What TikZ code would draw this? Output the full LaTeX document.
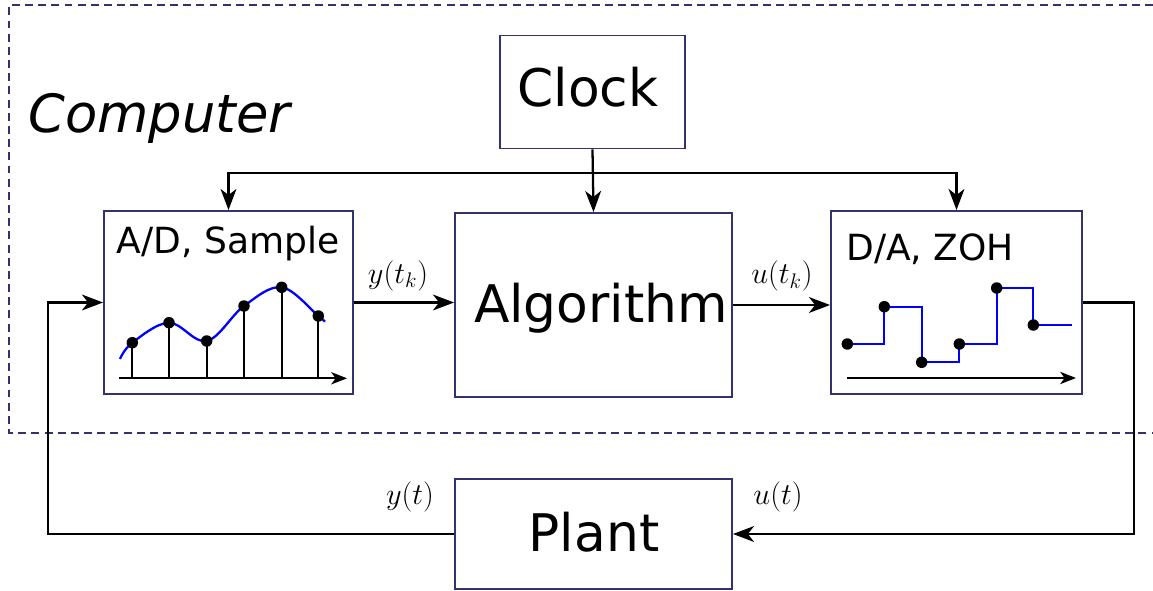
\documentclass[tikz,border=0pt]{standalone}
\usepackage[no-math]{fontspec}
\newfontfamily\dv{DejaVu Sans}
\usetikzlibrary{arrows.meta}
\definecolor{navy}{RGB}{50,50,110}
\begin{document}
\begin{tikzpicture}[x=0.02cm,y=-0.02cm,
  box/.style={draw=navy,line width=1.1pt,rectangle,inner sep=0pt},
  arr/.style={draw=black,line width=1.3pt,-{Stealth[length=12pt,width=9pt,inset=3.5pt]}},
  axarr/.style={draw=black,line width=1pt,-{Stealth[length=9pt,width=7pt,inset=2.5pt]}},
  stem/.style={draw=black,line width=1pt},
  sig/.style={draw=blue,line width=1.3pt},
  big/.style={font=\dv\fontsize{29.5}{34}\selectfont,inner sep=0pt,anchor=base},
  mid/.style={font=\dv\fontsize{20.5}{24}\selectfont,inner sep=0pt,anchor=base},
  lab/.style={font=\fontsize{17.28}{20}\selectfont,inner sep=0pt},
  dotc/.style={fill=black}
  ]
\useasboundingbox (0,0) rectangle (1153,591);
% computer border
\draw[navy,line width=0.9pt,dash pattern=on 4.5pt off 3pt] (1153,5) -- (9,5) -- (9,433) -- (1153,433);
\node[font=\dv\itshape\fontsize{30}{34}\selectfont,inner sep=0pt,anchor=base west] (comp) at (28,133) {Computer};

% boxes
\node[box,minimum width=3.7cm,minimum height=2.26cm] (clock) at (592.5,92) {};
\node[big] (clocktxt) at (588,107) {Clock};
\node[box,minimum width=4.98cm,minimum height=3.66cm] (ad) at (228.5,302.5) {};
\node[mid] (adtxt) at (228,254) {A/D, Sample};
\node[box,minimum width=5.54cm,minimum height=3.68cm] (alg) at (593.5,305) {};
\node[big] (algtxt) at (601,322) {Algorithm};
\node[box,minimum width=5.02cm,minimum height=3.66cm] (da) at (956.5,302.5) {};
\node[mid,anchor=base west] (datxt) at (846,261) {D/A, ZOH};
\node[box,minimum width=5.54cm,minimum height=2.2cm] (plant) at (593.5,534) {};
\node[big] (planttxt) at (594,551) {Plant};

% clock distribution
\coordinate (bus) at (592.5,173);
\draw[arr] (clock.south) -- (alg.north);
\draw[arr] (bus) -| (ad.north);
\draw[arr] (bus) -| (da.north);

% forward path
\draw[arr] (ad.east) -- (ad.east -| alg.west);
\draw[arr] (alg.east) -- (alg.east -| da.west);
\node[lab] (ytk) at (398,275.5) {$y(t_k)$};
\node[lab] (utk) at (782,276) {$u(t_k)$};

% loop
\coordinate (lft) at (48,0);
\coordinate (rgt) at (1134,0);
\draw[arr] (plant.west) -- (plant.west -| lft) |- (ad.west);
\draw[arr] (da.east) -- (da.east -| rgt) |- (plant.east);
\node[lab] (yt) at (410,497) {$y(t)$};
\node[lab] (ut) at (778,497) {$u(t)$};

% A/D sampled signal
\draw[axarr] (119,378.3) -- (347,378.3);
\draw[sig] plot[smooth,tension=0.6] coordinates {(120,359) (132.3,342.7) (169,322.7) (206.7,341) (244,306) (281.7,287.3) (318.3,316) (325,321.7)};
\foreach \x/\y in {132.3/342.7,169/322.7,206.7/341,244/306,281.7/287.3,318.3/316}{
  \draw[stem] (\x,378.3) -- (\x,\y);
  \fill[dotc] (\x,\y) circle[radius=0.115cm];
}

% D/A ZOH signal
\draw[axarr] (847,378) -- (1076,378);
\draw[sig] (847,344) -- (884.3,344) -- (884.3,306.7) -- (921.7,306.7) -- (921.7,362.3) -- (959.3,362.3) -- (959.3,344) -- (996.7,344) -- (996.7,288) -- (1033.3,288) -- (1033.3,325) -- (1072,325);
\foreach \x/\y in {847.3/344,884.3/306.7,921.7/362.3,959.3/344,996.7/288,1033.3/325}{
  \fill[dotc] (\x,\y) circle[radius=0.115cm];
}
\end{tikzpicture}
\end{document}
